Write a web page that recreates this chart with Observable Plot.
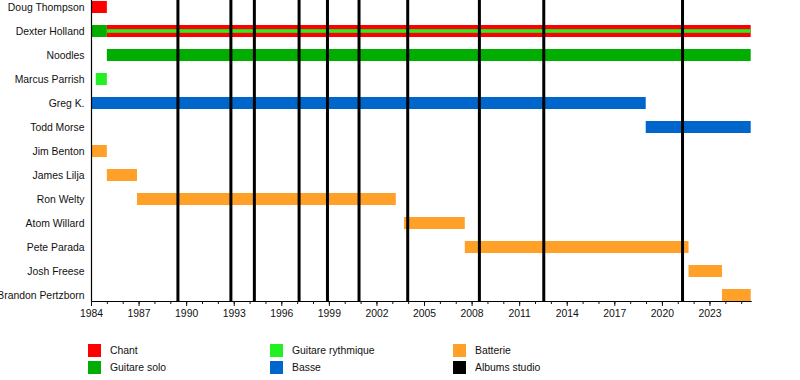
<!DOCTYPE html>
<html>
<head>
<meta charset="utf-8">
<script src="https://cdn.jsdelivr.net/npm/d3@7"></script>
<script src="https://cdn.jsdelivr.net/npm/@observablehq/plot@0.6"></script>
<style>
  html, body { margin: 0; padding: 0; background: #fff; }
  body { width: 800px; height: 380px; overflow: hidden; font-family: "Liberation Sans", Arial, sans-serif; }
  #legend { display: grid; grid-template-columns: 182px 183px 200px; grid-auto-rows: 17px; grid-auto-flow: column; grid-template-rows: 17px 17px; padding-left: 88px; margin-top: 6px; font-size: 10.4px; color: #111; }
  .item { display: flex; align-items: center; }
  .sw { width: 13px; height: 13px; margin-right: 9px; flex: none; }
</style>
</head>
<body>
<div id="chart"></div>
<div id="legend"></div>
<script>
// ---- data ----
const members = ["Doug Thompson", "Dexter Holland", "Noodles", "Marcus Parrish", "Greg K.", "Todd Morse",
  "Jim Benton", "James Lilja", "Ron Welty", "Atom Willard", "Pete Parada", "Josh Freese", "Brandon Pertzborn"];
const startYear = 1984;
const endYear = 2025.6;
// [member, start, end, role]
const periods = [
  ["Doug Thompson", 1984, 1985, "Chant"],
  ["Dexter Holland", 1984, 1985, "Guitare solo"],
  ["Dexter Holland", 1985, endYear, "Chant"],
  ["Noodles", 1985, endYear, "Guitare solo"],
  ["Marcus Parrish", 1984.3, 1985, "Guitare rythmique"],
  ["Greg K.", 1984, 2018.98, "Basse"],
  ["Todd Morse", 2018.98, endYear, "Basse"],
  ["Jim Benton", 1984, 1985, "Batterie"],
  ["James Lilja", 1985, 1986.9, "Batterie"],
  ["Ron Welty", 1986.9, 2003.22, "Batterie"],
  ["Atom Willard", 2003.74, 2007.57, "Batterie"],
  ["Pete Parada", 2007.57, 2021.68, "Batterie"],
  ["Josh Freese", 2021.68, 2023.79, "Batterie"],
  ["Brandon Pertzborn", 2023.79, endYear, "Batterie"]
];
// secondary role drawn as a thin stripe
const secondary = [
  ["Dexter Holland", 1985, endYear, "Guitare rythmique"]
];
const albums = [1989.45, 1992.79, 1994.27, 1997.09, 1998.88, 2000.87, 2003.94, 2008.46, 2012.52, 2021.27];
const majorTicks = d3.range(1984, 2024, 3);
const minorTicks = d3.range(1984, 2026, 1);
const roles = ["Chant", "Guitare solo", "Guitare rythmique", "Basse", "Batterie", "Albums studio"];
const roleColors = ["#ff0000", "#00ad00", "#22f022", "#0066cc", "#ffa028", "#000000"];

const toRec = ([member, start, end, role]) => ({member, start, end, role});
const periodData = periods.map(toRec);
const secondaryData = secondary.map(toRec);

const plot = Plot.plot({
  width: 800,
  height: 336,
  marginLeft: 91,
  marginRight: 49.3,
  marginTop: 0,
  marginBottom: 35,
  style: {fontFamily: "'Liberation Sans', Arial, sans-serif", fontSize: "10.4px", color: "#111", background: "#fff"},
  x: {domain: [startYear, endYear]},
  y: {domain: members, range: [-5, 307], padding: 0},
  color: {domain: roles, range: roleColors},
  marks: [
    Plot.barX(periodData, {y: "member", x1: "start", x2: "end", fill: "role", insetTop: 6, insetBottom: 6}),
    Plot.barX(secondaryData, {y: "member", x1: "start", x2: "end", fill: "role", insetTop: 10.2, insetBottom: 10.2}),
    Plot.ruleX(albums, {stroke: "#000", strokeWidth: 3}),
    Plot.ruleX([startYear], {stroke: "#000", strokeWidth: 1.2}),
    Plot.frame({anchor: "bottom", stroke: "#000"}),
    Plot.axisY({tickSize: 0, tickPadding: 7, label: null}),
    Plot.axisX({ticks: minorTicks, tickSize: 3, tickFormat: () => "", label: null}),
    Plot.axisX({ticks: majorTicks, tickSize: 5, tickPadding: 3.5, tickFormat: d3.format("d"), label: null})
  ]
});
document.getElementById("chart").appendChild(plot);

// legend (HTML, below the SVG)
const leg = document.getElementById("legend");
roles.forEach((r, i) => {
  const it = document.createElement("div");
  it.className = "item";
  const sw = document.createElement("span");
  sw.className = "sw";
  sw.style.background = roleColors[i];
  const tx = document.createElement("span");
  tx.textContent = r;
  it.appendChild(sw); it.appendChild(tx);
  leg.appendChild(it);
});
</script>
</body>
</html>
